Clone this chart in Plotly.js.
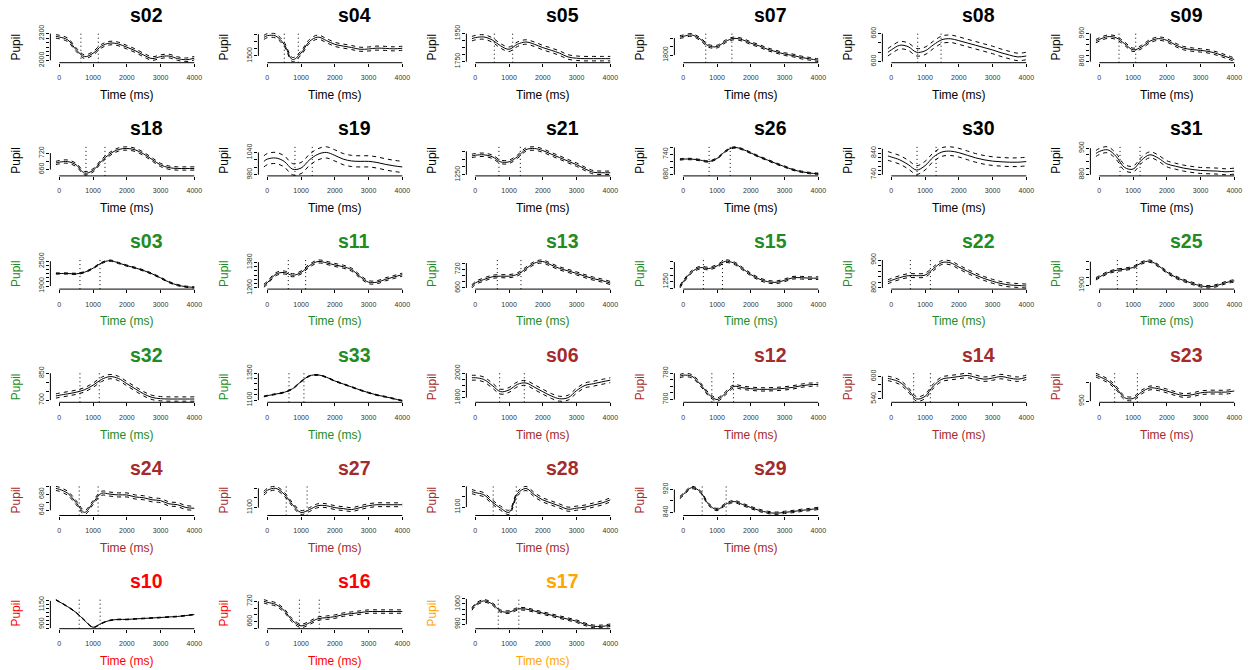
<!DOCTYPE html>
<html>
<head>
<meta charset="utf-8">
<script src="https://cdn.plot.ly/plotly-3.0.1.min.js"></script>
<style>
  html, body { margin: 0; padding: 0; background: #ffffff; }
  #chart { width: 1248px; height: 670px; }
</style>
</head>
<body>
<div id="chart"></div>
<script>
// ---- data -------------------------------------------------------------
const timeMs = [-100, 0, 250, 500, 750, 1000, 1250, 1500, 1750, 2000, 2250, 2500, 2750, 3000, 3250, 3500, 3750, 4000];
const timeTicks = [0, 1000, 2000, 3000, 4000];

const subjects = ['s02','s04','s05','s07','s08','s09',
                  's18','s19','s21','s26','s30','s31',
                  's03','s11','s13','s15','s22','s25',
                  's32','s33','s06','s12','s14','s23',
                  's24','s27','s28','s29',
                  's10','s16','s17'];
const subjectGroup = ['none','none','none','none','none','none',
                      'none','none','none','none','none','none',
                      'rise','rise','rise','rise','rise','rise',
                      'rise','rise','dip','dip','dip','dip',
                      'dip','dip','dip','dip',
                      'drop','drop','other'];

// mean pupil size per subject (arbitrary units)
const pupil_s02 = [2268, 2262, 2230, 2120, 2042, 2080, 2160, 2194, 2184, 2148, 2109, 2060, 2021, 2042, 2049, 2021, 2007, 2025];
const pupil_s04 = [1756, 1780, 1775, 1660, 1450, 1540, 1700, 1760, 1712, 1660, 1636, 1616, 1592, 1596, 1608, 1604, 1598, 1606];
const pupil_s05 = [1914, 1921, 1926, 1905, 1862, 1838, 1874, 1890, 1874, 1850, 1831, 1810, 1783, 1774, 1771, 1771, 1771, 1771];
const pupil_s07 = [1906, 1910, 1918, 1894, 1854, 1850, 1880, 1898, 1890, 1870, 1854, 1834, 1820, 1806, 1798, 1786, 1778, 1770];
const pupil_s08 = [620, 625, 635, 632, 620, 623, 636, 647, 649, 645, 640, 635, 630, 625, 619, 614, 610, 612];
const pupil_s09 = [933, 939, 949, 945, 924, 902, 912, 933, 942, 936, 920, 908, 903, 900, 896, 888, 878, 867];
const pupil_s18 = [684, 687, 689, 677, 647, 657, 691, 717, 733, 737, 732, 717, 697, 677, 667, 664, 664, 664];
const pupil_s19 = [1016, 1022, 1025, 1016, 995, 998, 1020, 1035, 1040, 1032, 1022, 1017, 1016, 1016, 1013, 1008, 1004, 1001];
const pupil_s21 = [1371, 1375, 1378, 1366, 1333, 1333, 1366, 1411, 1418, 1405, 1382, 1360, 1337, 1315, 1288, 1266, 1263, 1263];
const pupil_s26 = [725, 726, 726, 723, 719, 728, 749, 760, 755, 744, 733, 723, 713, 704, 695, 689, 685, 683];
const pupil_s30 = [827, 822, 809, 787, 762, 782, 822, 845, 849, 842, 830, 818, 809, 803, 800, 798, 798, 801];
const pupil_s31 = [944, 950, 955, 935, 902, 897, 924, 940, 930, 913, 906, 900, 896, 893, 892, 891, 889, 891];
const pupil_s03 = [2204, 2204, 2204, 2196, 2236, 2332, 2460, 2516, 2460, 2396, 2340, 2276, 2196, 2100, 1996, 1924, 1884, 1868];
const pupil_s11 = [1271, 1284, 1324, 1332, 1319, 1332, 1364, 1383, 1377, 1367, 1359, 1345, 1313, 1287, 1287, 1300, 1311, 1322];
const pupil_s13 = [665, 676, 687, 696, 698, 698, 704, 722, 740, 745, 734, 723, 715, 707, 698, 690, 684, 676];
const pupil_s15 = [1212, 1250, 1325, 1357, 1350, 1370, 1405, 1392, 1350, 1305, 1270, 1250, 1245, 1260, 1280, 1280, 1277, 1277];
const pupil_s22 = [882, 887, 897, 904, 904, 906, 929, 951, 950, 935, 920, 906, 894, 884, 876, 871, 869, 867];
const pupil_s25 = [1981, 2004, 2058, 2089, 2103, 2125, 2184, 2206, 2148, 2067, 2004, 1959, 1923, 1891, 1878, 1896, 1932, 1954];
const pupil_s32 = [723, 727, 735, 744, 758, 783, 815, 831, 821, 792, 763, 735, 715, 708, 706, 706, 706, 706];
const pupil_s33 = [1134, 1141, 1156, 1172, 1206, 1272, 1325, 1334, 1313, 1278, 1250, 1222, 1194, 1169, 1147, 1131, 1113, 1094];
const pupil_s06 = [1963, 1963, 1949, 1900, 1849, 1863, 1909, 1920, 1886, 1849, 1814, 1791, 1800, 1857, 1900, 1914, 1929, 1943];
const pupil_s12 = [771, 774, 771, 747, 716, 700, 719, 740, 736, 733, 731, 731, 732, 734, 737, 742, 745, 746];
const pupil_s14 = [595, 593, 585, 565, 540, 547, 575, 593, 597, 600, 603, 598, 593, 596, 600, 596, 593, 598];
const pupil_s23 = [1019, 1015, 1004, 985, 959, 957, 974, 985, 983, 977, 970, 965, 967, 972, 974, 974, 974, 977];
const pupil_s24 = [694, 692, 682, 659, 635, 659, 682, 680, 678, 678, 673, 671, 666, 664, 656, 654, 647, 645];
const pupil_s27 = [1175, 1190, 1200, 1170, 1115, 1075, 1090, 1110, 1110, 1100, 1095, 1090, 1100, 1110, 1115, 1115, 1115, 1115];
const pupil_s28 = [1175, 1170, 1160, 1125, 1095, 1075, 1165, 1190, 1160, 1135, 1120, 1105, 1090, 1095, 1100, 1110, 1120, 1135];
const pupil_s29 = [892, 903, 927, 913, 868, 850, 868, 878, 868, 857, 847, 840, 837, 840, 843, 847, 850, 854];
const pupil_s10 = [1212, 1188, 1125, 1050, 950, 862, 912, 950, 962, 962, 969, 975, 981, 987, 994, 1000, 1012, 1025];
const pupil_s16 = [720, 717, 711, 693, 663, 648, 657, 669, 672, 675, 681, 684, 687, 690, 690, 690, 690, 690];
const pupil_s17 = [1040, 1056, 1072, 1060, 1032, 1028, 1040, 1040, 1032, 1024, 1016, 1008, 1000, 992, 980, 972, 972, 976];

// half-width of the confidence band, in subject order
const ciHalfWidth = [20, 28, 16, 8, 8, 6,
                     6, 15, 11, 2, 20, 9,
                     15, 7, 5, 10, 7, 15,
                     12, 4, 20, 5, 6, 5,
                     5, 10, 10, 4,
                     4, 5, 5];

// event times (ms) marked by dotted lines, in subject order
const eventA = [640, 504, 563, 665, 782, 584,
                790, 820, 700, 765, 762, 614,
                612, 622, 652, 596, 564, 535,
                612, 642, 721, 846, 663, 455,
                590, 560, 530, 560,
                590, 950, 680];
const eventB = [1156, 919, 1107, 1440, 1475, 1079,
                1353, 1333, 1334, 1390, 1327, 1208,
                1205, 1136, 1353, 1162, 1158, 1109,
                1185, 1086, 1452, 1489, 1158, 1129,
                1150, 1180, 1215, 1270,
                1210, 1540, 1290];

// y-axis tick spacing and the tick values that carry a label
const yTickStep = [50, 100, 50, 50, 20, 20,
                   30, 20, 50, 20, 20, 20,
                   100, 20, 20, 50, 20, 100,
                   50, 50, 50, 20, 20, 50,
                   20, 50, 50, 40,
                   50, 20, 20];
const yTickLabels = [[2000, 2300], [1500], [1750, 1950], [1800], [600, 660], [860, 960],
                     [660, 720], [980, 1040], [1250], [680, 740], [740, 840], [880, 960],
                     [1900, 2500], [1260, 1380], [660, 720], [1250], [860, 960], [1900],
                     [700, 850], [1100, 1350], [1800, 2000], [700, 780], [540, 600], [950],
                     [640, 680], [1100], [1100], [840, 920],
                     [900, 1150], [660, 720], [980, 1060]];

const pupilSeries = {
  s02: pupil_s02, s04: pupil_s04, s05: pupil_s05, s07: pupil_s07, s08: pupil_s08, s09: pupil_s09,
  s18: pupil_s18, s19: pupil_s19, s21: pupil_s21, s26: pupil_s26, s30: pupil_s30, s31: pupil_s31,
  s03: pupil_s03, s11: pupil_s11, s13: pupil_s13, s15: pupil_s15, s22: pupil_s22, s25: pupil_s25,
  s32: pupil_s32, s33: pupil_s33, s06: pupil_s06, s12: pupil_s12, s14: pupil_s14, s23: pupil_s23,
  s24: pupil_s24, s27: pupil_s27, s28: pupil_s28, s29: pupil_s29,
  s10: pupil_s10, s16: pupil_s16, s17: pupil_s17
};

// ---- styling / layout ---------------------------------------------------
const groupColor = { none: '#000000', rise: '#228B22', dip: '#A52A2A', drop: '#FF0000', other: '#FFA500' };
const FONT = 'Liberation Sans, Arial, Helvetica, sans-serif';
const W = 1248, H = 670;
const rowSizes = [6, 6, 6, 6, 4, 3];
const CELL_W = 208, ROW_H = 113.2;
const PLOT_L = 50.4, PLOT_R = 199.8, PLOT_T = 32.5, PLOT_B = 62.7;
const TITLE_X = 146, TITLE_Y = 15, XLAB_X = 126.8, XLAB_Y = 95, YLAB_X = 16;

const px = p => p / W;
const py = p => 1 - p / H;

const traces = [];
const shapes = [];
const annotations = [];
const layout = {
  width: W, height: H,
  margin: { l: 0, r: 0, t: 0, b: 0 },
  paper_bgcolor: '#ffffff', plot_bgcolor: 'rgba(0,0,0,0)',
  showlegend: false,
  font: { family: FONT, color: '#000' },
  shapes, annotations
};

const tMin = Math.min(...timeMs), tMax = Math.max(...timeMs);
const tPad = 0.04 * (tMax - tMin);
const tickFont = { family: FONT, size: 7, color: '#333' };

let k = 0;
rowSizes.forEach((n, row) => {
  for (let col = 0; col < n; col++, k++) {
    const name = subjects[k];
    const mean = pupilSeries[name];
    const hw = ciHalfWidth[k];
    const upper = mean.map(v => v + hw);
    const lower = mean.map(v => v - hw);
    const labels = yTickLabels[k];
    const step = yTickStep[k];
    const color = groupColor[subjectGroup[k]];

    const lo = Math.min(...lower, ...labels);
    const hi = Math.max(...upper, ...labels);
    const pad = 0.04 * (hi - lo);
    const yr = [lo - pad, hi + pad];
    const ticks = [];
    for (let v = Math.ceil(yr[0] / step - 1e-9) * step; v <= yr[1] + 1e-9; v += step) ticks.push(v);

    const s = k === 0 ? '' : String(k + 1);
    const xa = 'x' + s, ya = 'y' + s;
    const x0 = col * CELL_W + PLOT_L, x1 = col * CELL_W + PLOT_R;
    const yTop = row * ROW_H + PLOT_T, yBot = row * ROW_H + PLOT_B;

    layout['xaxis' + s] = {
      domain: [px(x0), px(x1)], anchor: ya,
      range: [tMin - tPad, tMax + tPad],
      showgrid: false, zeroline: false, showline: false,
      tickmode: 'array', tickvals: timeTicks, ticktext: timeTicks.map(String),
      ticks: 'outside', ticklen: 3, tickwidth: 1, tickcolor: '#000',
      tickfont: tickFont, ticklabelstandoff: 5, fixedrange: true
    };
    layout['yaxis' + s] = {
      domain: [py(yBot), py(yTop)], anchor: xa,
      range: yr,
      showgrid: false, zeroline: false, showline: false,
      tickmode: 'array', tickvals: ticks,
      ticktext: ticks.map(v => labels.includes(v) ? String(v) : ''),
      tickangle: -90,
      ticks: 'outside', ticklen: 3, tickwidth: 1, tickcolor: '#000',
      tickfont: tickFont, fixedrange: true
    };

    const mk = (y, dash) => ({
      type: 'scatter', mode: 'lines', x: timeMs, y, xaxis: xa, yaxis: ya,
      line: { color: '#000', width: 1, dash, shape: 'spline', smoothing: 1 },
      hoverinfo: 'skip'
    });
    traces.push(mk(upper, '4px,4px'), mk(lower, '4px,4px'), mk(mean, 'solid'));

    // axis lines spanning first to last tick
    shapes.push({ type: 'line', xref: xa, yref: ya + ' domain',
      x0: timeTicks[0], x1: timeTicks[timeTicks.length - 1], y0: 0, y1: 0,
      line: { color: '#000', width: 1 } });
    shapes.push({ type: 'line', xref: xa + ' domain', yref: ya,
      x0: 0, x1: 0, y0: ticks[0], y1: ticks[ticks.length - 1],
      line: { color: '#000', width: 1 } });
    // event markers
    [eventA[k], eventB[k]].forEach(t => shapes.push({
      type: 'line', xref: xa, yref: ya + ' domain', x0: t, x1: t, y0: 0, y1: 1,
      line: { color: '#000', width: 1, dash: '1px,3px' } }));

    annotations.push({
      xref: 'paper', yref: 'paper', x: px(col * CELL_W + TITLE_X), y: py(row * ROW_H + TITLE_Y),
      xanchor: 'center', yanchor: 'middle', showarrow: false,
      text: '<b>' + name + '</b>', font: { family: FONT, size: 19.5, color }
    });
    annotations.push({
      xref: 'paper', yref: 'paper', x: px(col * CELL_W + XLAB_X), y: py(row * ROW_H + XLAB_Y),
      xanchor: 'center', yanchor: 'middle', showarrow: false,
      text: 'Time (ms)', font: { family: FONT, size: 12, color }
    });
    annotations.push({
      xref: 'paper', yref: 'paper', x: px(col * CELL_W + YLAB_X), y: py((yTop + yBot) / 2),
      xanchor: 'center', yanchor: 'middle', showarrow: false, textangle: -90,
      text: 'Pupil', font: { family: FONT, size: 12, color }
    });
  }
});

Plotly.newPlot('chart', traces, layout, { staticPlot: true, displayModeBar: false });
</script>
</body>
</html>
